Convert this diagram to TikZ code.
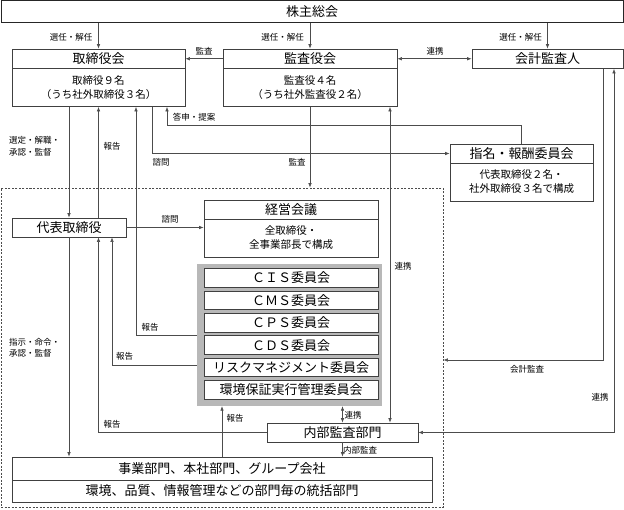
\documentclass[tikz,border=0pt]{standalone}
\usepackage{fontspec}
\setmainfont{Noto Sans CJK JP}
\usetikzlibrary{arrows.meta}

\begin{document}
\begin{tikzpicture}[
		x=1pt, y=-1pt,
		every node/.style={text=black},
		box/.style={draw=black!75, line width=0.7pt, fill=white, inner sep=1pt, font=\fontsize{13}{16}\selectfont},
		boxbody/.style={box, align=center, font=\fontsize{10.5}{14}\selectfont},
		cmte/.style={box, line width=1pt, minimum width=174, minimum height=18.5},
		lbl/.style={font=\fontsize{8.5}{11.5}\selectfont, inner sep=1pt},
		arrow/.style={-{Latex[length=4.5pt,width=3.5pt]}, draw=black!70, line width=0.6pt},
		arrow2/.style={{Latex[length=4.5pt,width=3.5pt]}-{Latex[length=4.5pt,width=3.5pt]}, draw=black!70, line width=0.6pt}
		]
		\useasboundingbox (0,0) rectangle (624,509);
		
		% Dashed frame (execution side)
		\node[draw=black!70, line width=0.7pt, dash pattern=on 2pt off 1.5pt, minimum width=442, minimum height=319, inner sep=0pt] (frame) at (222,347.5) {};
		
		% -------- Top level --------
		\node[box, draw=black!85, line width=1pt, minimum width=622, minimum height=22] (kabu) at (312,11.5) {株主総会};
		
		\node[box, minimum width=173, minimum height=19.5] (tori) at (98.5,58.75) {取締役会};
		\node[boxbody, minimum width=173, minimum height=38] (toribody) at (98.5,87.5) {取締役９名\\（うち社外取締役３名）};
		
		\node[box, minimum width=174, minimum height=19.5] (kansa) at (310,58.75) {監査役会};
		\node[boxbody, minimum width=174, minimum height=38] (kansabody) at (310,87.5) {監査役４名\\（うち社外監査役２名）};
		
		\node[box, minimum width=151, minimum height=19.5] (kaikei) at (547.5,58.75) {会計監査人};
		
		\node[box, minimum width=143, minimum height=19] (shimei) at (521.5,153.5) {指名・報酬委員会};
		\node[boxbody, minimum width=143, minimum height=38] (shimeibody) at (521.5,182) {代表取締役２名・\\社外取締役３名で構成};
		
		% -------- Execution side --------
		\node[box, minimum width=114, minimum height=19] (daihyo) at (69,227.5) {代表取締役};
		
		\node[box, minimum width=174, minimum height=19] (keiei) at (291,209.5) {経営会議};
		\node[boxbody, minimum width=174, minimum height=38] (keieibody) at (291,238) {全取締役・\\全事業部長で構成};
		
		% Committees
		\node[fill=black!28, minimum width=185, minimum height=142, inner sep=0pt] (panel) at (289.5,335) {};
		\foreach \name [count=\i] in {ＣＩＳ委員会, ＣＭＳ委員会, ＣＰＳ委員会, ＣＤＳ委員会, リスクマネジメント委員会, 環境保証実行管理委員会}
		\node[cmte] (c\i) at (291,255.6+22.4*\i) {\name};
		
		\node[box, minimum width=151, minimum height=19] (naibu) at (342.5,432.5) {内部監査部門};
		
		\node[box, minimum width=420, minimum height=23] (jigyo) at (222,468.5) {事業部門、本社部門、グループ会社};
		\node[box, minimum width=420, minimum height=22] (jigyobody) at (222,491) {環境、品質、情報管理などの部門毎の統括部門};
		
		% ---- Shareholders ----
		\draw[arrow] (kabu.south -| tori.north) -- (tori.north);
		\draw[arrow] (kabu.south -| kansa.north) -- (kansa.north);
		\draw[arrow] (kabu.south -| kaikei.north) -- (kaikei.north);
		\draw[arrow] (kansa.west) -- (tori.east);
		\draw[arrow2] (kansa.east) -- (kaikei.west);
		
		% ---- Board <-> representative director ----
		\draw[arrow] (toribody.south -| daihyo.north) -- (daihyo.north);
		\draw[arrow] (daihyo.north -| toribody.south) -- (toribody.south);
		\draw[arrow] (panel.west) -| ([xshift=37.5pt]toribody.south);
		\draw[arrow] ([yshift=-30pt]panel.west) -| ([xshift=43pt]daihyo.south);
		
		% ---- Nomination committee ----
		\coordinate (tosin) at (167,125);
		\draw[arrow] ([xshift=53.5pt]toribody.south) |- (shimei.west);
		\draw[arrow] (shimei.north) |- (tosin) -- (tosin |- toribody.south);
		
		% ---- Audit ----
		\draw[arrow] (kansabody.south) -- (kansabody.south |- frame.north);
		\draw[arrow2] ([xshift=80pt]kansabody.south) -- ([xshift=80pt]kansabody.south |- naibu.north);
		\draw[arrow] ([xshift=55.5pt]kaikei.south) |- ([yshift=-12.5pt]frame.east);
		\draw[arrow2] (naibu.east) -| ([xshift=66.5pt]kaikei.south);
		
		% ---- Representative director ----
		\draw[arrow] (daihyo.east) -- (daihyo.east -| keieibody.west);
		\draw[arrow] (daihyo.south) -- (daihyo.south |- jigyo.north);
		
		% ---- Internal audit / departments ----
		\draw[arrow] (naibu.west) -| ([xshift=29.5pt]daihyo.south);
		\draw[arrow2] (naibu.north |- panel.south) -- (naibu.north);
		\draw[arrow] (naibu.south) -- (naibu.south |- jigyo.north);
		\draw[arrow] ([xshift=-67.5pt]panel.south |- jigyo.north) -- ([xshift=-67.5pt]panel.south);
		
		% Labels
		\node[lbl] (l-sen1) at (71,37) {選任・解任};
		\node[lbl] (l-sen2) at (282.5,37) {選任・解任};
		\node[lbl] (l-sen3) at (520.5,37) {選任・解任};
		\node[lbl] (l-kansa1) at (204,51) {監査};
		\node[lbl] (l-renkei1) at (435,51) {連携};
		\node[lbl, align=left, anchor=west] (l-sentei) at (8,146.5) {選定・解職・\\承認・監督};
		\node[lbl] (l-hokoku1) at (112,146) {報告};
		\node[lbl] (l-tosin) at (194,117) {答申・提案};
		\node[lbl] (l-simon1) at (161,162) {諮問};
		\node[lbl] (l-kansa2) at (297,162) {監査};
		\node[lbl] (l-renkei2) at (403,266) {連携};
		\node[lbl] (l-simon2) at (170,219) {諮問};
		\node[lbl] (l-hokoku2) at (150,327) {報告};
		\node[lbl] (l-hokoku3) at (124.5,356.5) {報告};
		\node[lbl, align=left, anchor=west] (l-shiji) at (8,348) {指示・命令・\\承認・監督};
		\node[lbl] (l-hokoku4) at (112,424) {報告};
		\node[lbl] (l-hokoku5) at (235,418) {報告};
		\node[lbl] (l-renkei3) at (353,415) {連携};
		\node[lbl] (l-naibu) at (360,450) {内部監査};
		\node[lbl] (l-kaikei) at (527,369) {会計監査};
		\node[lbl] (l-renkei4) at (600,397) {連携};
		
	\end{tikzpicture}
\end{document}
